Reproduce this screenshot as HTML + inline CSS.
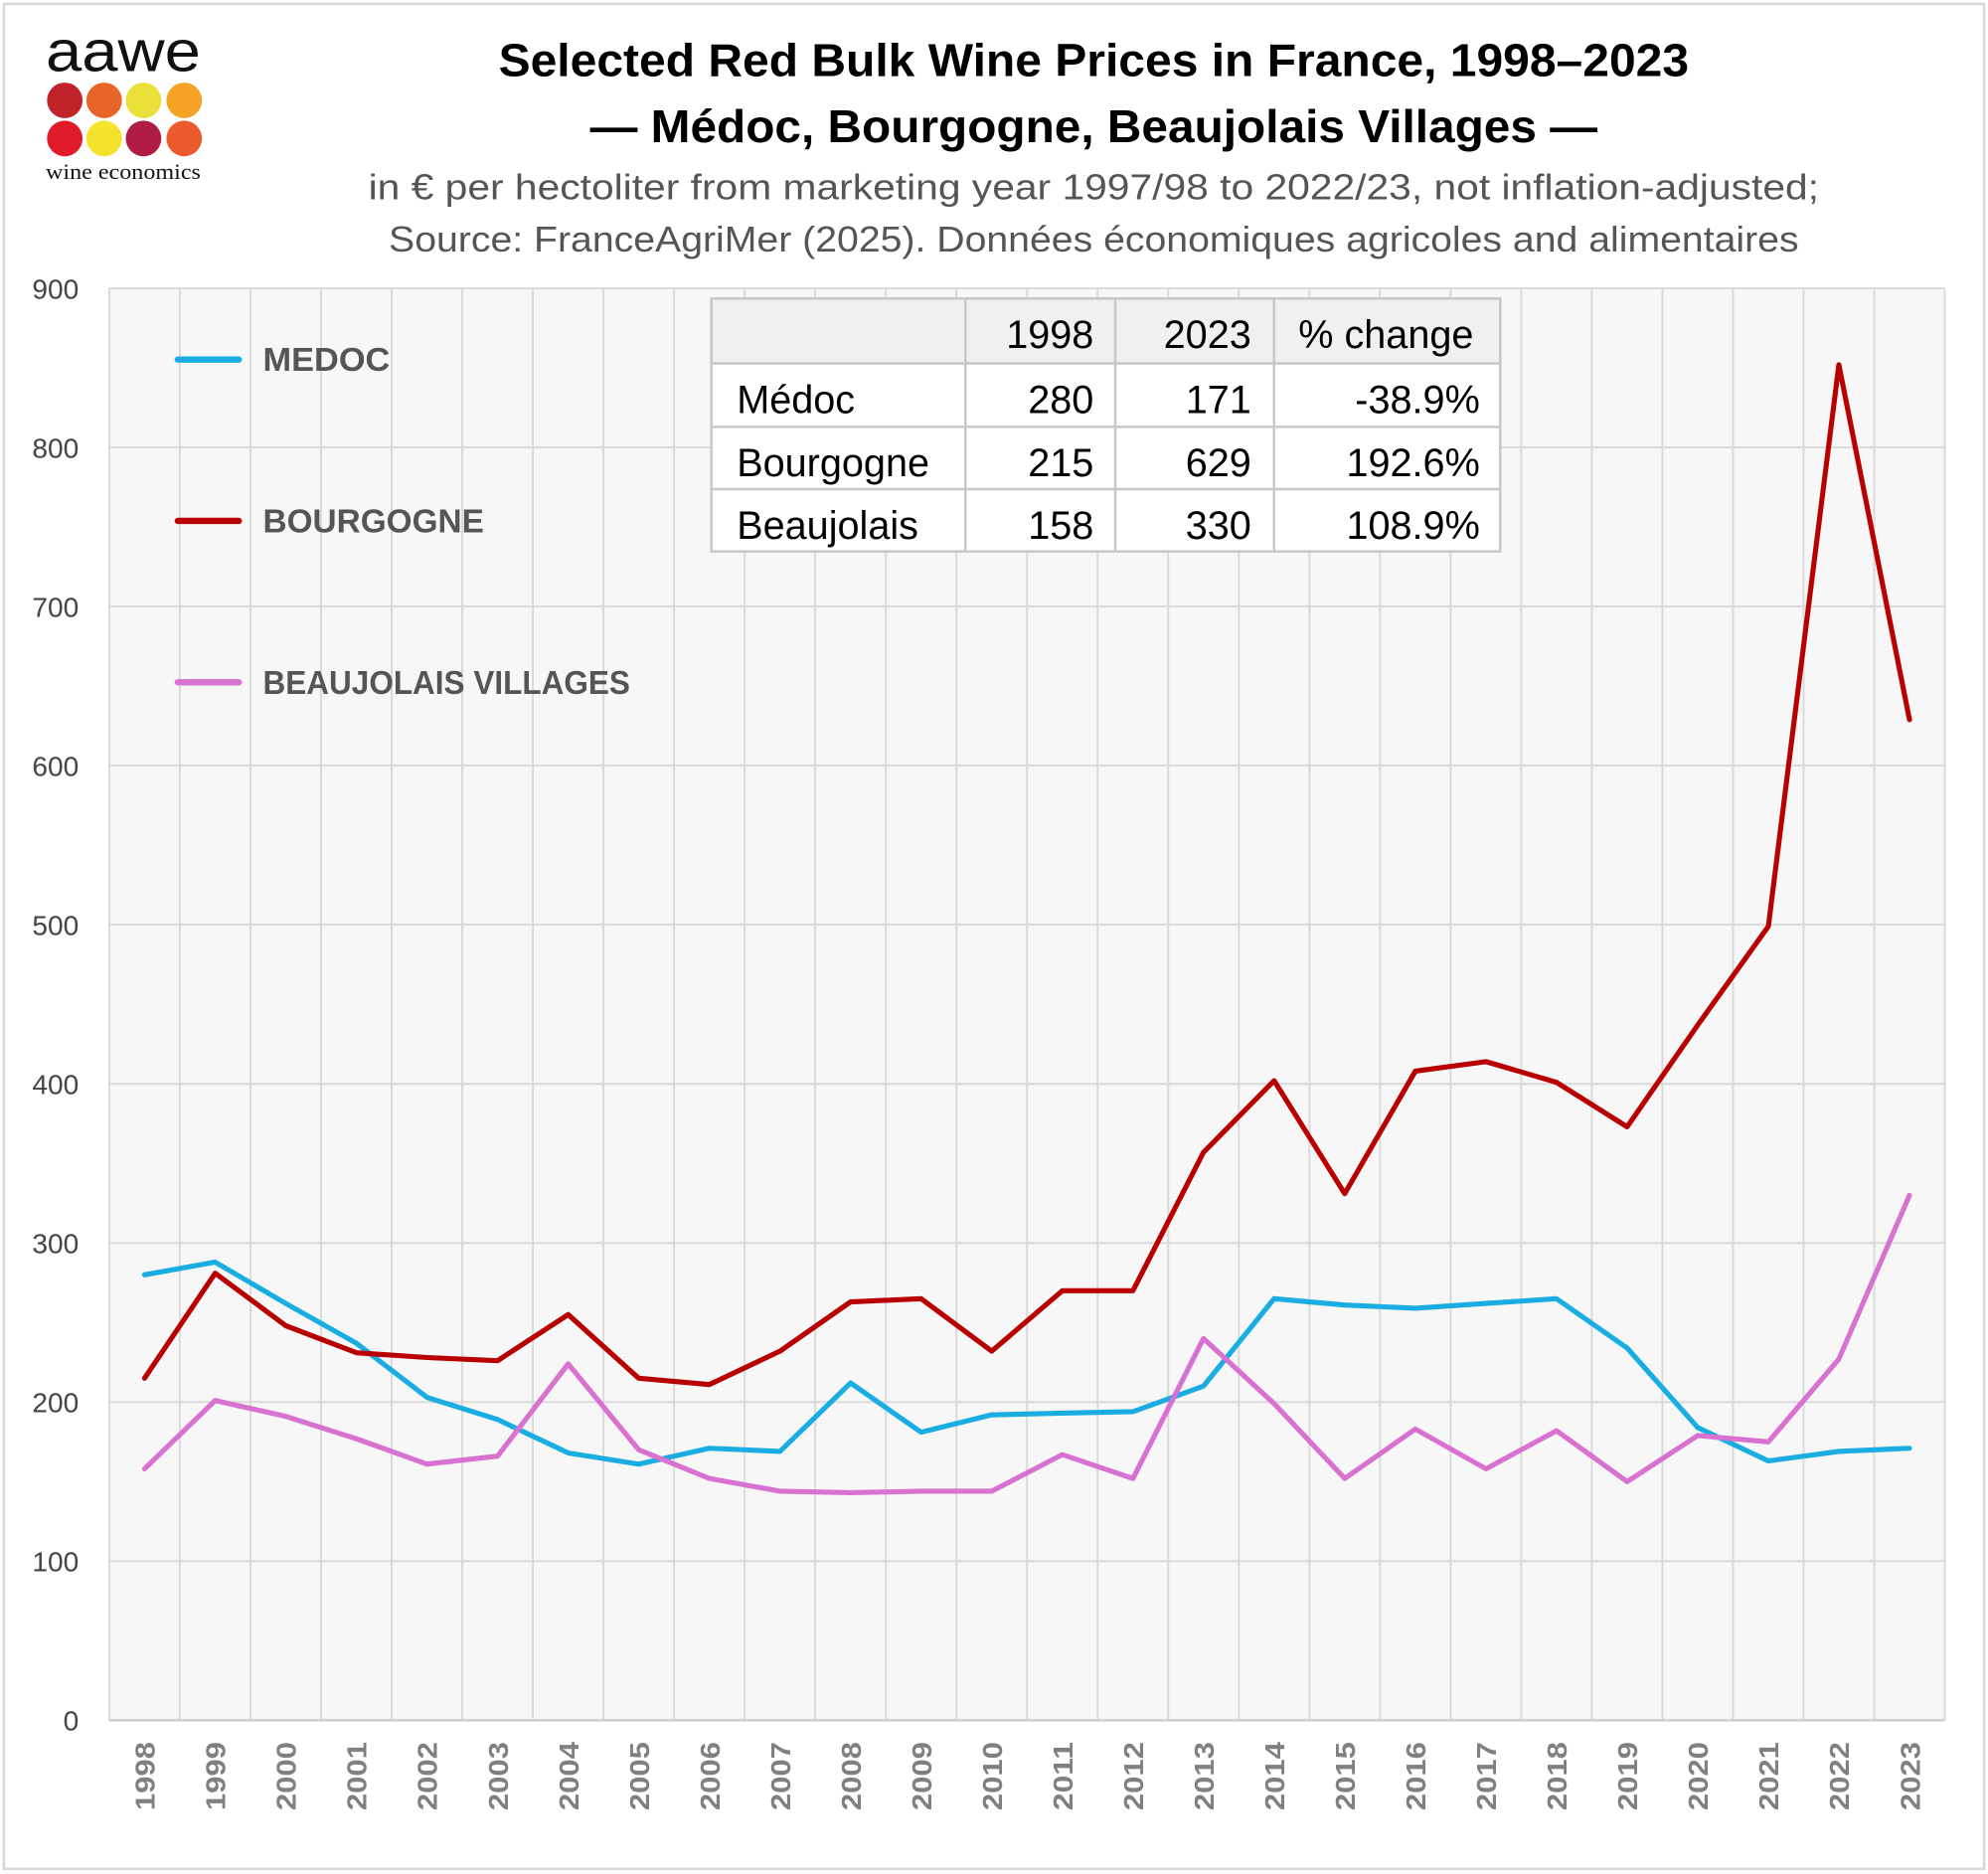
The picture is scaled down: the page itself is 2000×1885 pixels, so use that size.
<!DOCTYPE html>
<html><head><meta charset="utf-8"><style>
html,body{margin:0;padding:0;background:#fff;}
svg{display:block;}
text{font-family:"Liberation Sans",sans-serif;}
</style></head><body>
<svg id="chart" width="2000" height="1885" viewBox="0 0 1565 1475" xmlns="http://www.w3.org/2000/svg">
<rect x="3" y="3" width="1559" height="1468" fill="#fff" stroke="#d8d8d8" stroke-width="2"/>
<g>
<text x="36" y="56" font-size="46" textLength="122" lengthAdjust="spacingAndGlyphs" fill="#111">aawe</text>
<circle cx="51" cy="79" r="14" fill="#c0232a"/><circle cx="82" cy="79" r="14" fill="#e8652a"/><circle cx="113" cy="79" r="14" fill="#e9e03a"/><circle cx="145" cy="79" r="14" fill="#f4a325"/>
<circle cx="51" cy="109" r="14" fill="#e21b2a"/><circle cx="82" cy="109" r="14" fill="#f5e22a"/><circle cx="113" cy="109" r="14" fill="#b01c44"/><circle cx="145" cy="109" r="14" fill="#ec5b2e"/>
<text x="36" y="141" font-size="17" font-family="Liberation Serif,serif" textLength="122" lengthAdjust="spacingAndGlyphs" fill="#111" style="font-family:'Liberation Serif',serif">wine economics</text>
</g>
<text x="861" y="60" text-anchor="middle" font-size="36" font-weight="bold" textLength="937" lengthAdjust="spacingAndGlyphs" fill="#000">Selected Red Bulk Wine Prices in France, 1998–2023</text>
<text x="861" y="112" text-anchor="middle" font-size="36" font-weight="bold" textLength="793" lengthAdjust="spacingAndGlyphs" fill="#000">— Médoc, Bourgogne, Beaujolais Villages —</text>
<text x="861" y="157" text-anchor="middle" font-size="28" textLength="1142" lengthAdjust="spacingAndGlyphs" fill="#555">in € per hectoliter from marketing year 1997/98 to 2022/23, not inflation-adjusted;</text>
<text x="861" y="198" text-anchor="middle" font-size="28" textLength="1110" lengthAdjust="spacingAndGlyphs" fill="#555">Source: FranceAgriMer (2025). Données économiques agricoles and alimentaires</text>
<rect x="86" y="227" width="1445" height="1127" fill="#f7f7f7"/>
<g id="grid"></g>
<g id="axes"></g>
<g id="lines"></g>
<g>
<line x1="140" y1="283" x2="188" y2="283" stroke="#1aade2" stroke-width="5" stroke-linecap="round"/>
<text x="207" y="292" font-size="26" font-weight="bold" fill="#555" textLength="100" lengthAdjust="spacingAndGlyphs">MEDOC</text>
<line x1="140" y1="410" x2="188" y2="410" stroke="#b80000" stroke-width="5" stroke-linecap="round"/>
<text x="207" y="419" font-size="26" font-weight="bold" fill="#555" textLength="174" lengthAdjust="spacingAndGlyphs">BOURGOGNE</text>
<line x1="140" y1="537" x2="188" y2="537" stroke="#d772d0" stroke-width="5" stroke-linecap="round"/>
<text x="207" y="546" font-size="26" font-weight="bold" fill="#555" textLength="289" lengthAdjust="spacingAndGlyphs">BEAUJOLAIS VILLAGES</text>
</g>
<g font-size="31" fill="#000">
<rect x="560" y="235" width="621" height="199" fill="#fff" stroke="#c8c8c8" stroke-width="2"/>
<rect x="560" y="235" width="621" height="51" fill="#f0f0f0" stroke="#c8c8c8" stroke-width="2"/>
<line x1="560" y1="336" x2="1181" y2="336" stroke="#c8c8c8" stroke-width="2"/>
<line x1="560" y1="385" x2="1181" y2="385" stroke="#c8c8c8" stroke-width="2"/>
<line x1="760" y1="235" x2="760" y2="434" stroke="#c8c8c8" stroke-width="2"/>
<line x1="878" y1="235" x2="878" y2="434" stroke="#c8c8c8" stroke-width="2"/>
<line x1="1003" y1="235" x2="1003" y2="434" stroke="#c8c8c8" stroke-width="2"/>
<text x="861" y="274" text-anchor="end">1998</text><text x="985" y="274" text-anchor="end">2023</text><text x="1160" y="274" text-anchor="end">% change</text>
<text x="580" y="325">Médoc</text><text x="861" y="325" text-anchor="end">280</text><text x="985" y="325" text-anchor="end">171</text><text x="1165" y="325" text-anchor="end">-38.9%</text>
<text x="580" y="375">Bourgogne</text><text x="861" y="375" text-anchor="end">215</text><text x="985" y="375" text-anchor="end">629</text><text x="1165" y="375" text-anchor="end">192.6%</text>
<text x="580" y="424">Beaujolais</text><text x="861" y="424" text-anchor="end">158</text><text x="985" y="424" text-anchor="end">330</text><text x="1165" y="424" text-anchor="end">108.9%</text>
</g>
</svg>
<script>
const years = [1998,1999,2000,2001,2002,2003,2004,2005,2006,2007,2008,2009,2010,2011,2012,2013,2014,2015,2016,2017,2018,2019,2020,2021,2022,2023];
const medoc = [280,288,262,237,203,189,168,161,171,169,212,181,192,193,194,210,265,261,259,262,265,234,184,163,169,171];
const bourgogne = [215,281,248,231,228,226,255,215,211,232,263,265,232,270,270,357,402,331,408,414,401,373,437,499,852,629];
const beaujolais = [158,201,191,177,161,166,224,170,152,144,143,144,144,167,152,240,199,152,183,158,182,150,179,175,227,330];
const yTicks = [0,100,200,300,400,500,600,700,800,900];

const NS = 'http://www.w3.org/2000/svg';
const L = 86, R = 1531, T = 227, B = 1354, YMAX = 900;
const step = (R - L) / years.length;
function xScale(i){ return L + step * (i + 0.5); }
function yScale(v){ return B - (v / YMAX) * (B - T); }
function mk(tag, attrs, parent){ const e = document.createElementNS(NS, tag); for (const k in attrs) e.setAttribute(k, attrs[k]); parent.appendChild(e); return e; }

const grid = document.getElementById('grid');
const axes = document.getElementById('axes');
yTicks.forEach(v => {
  const y = yScale(v);
  const gl = mk('line', {x1: L, x2: R, y1: y, y2: y, stroke: '#d9d9d9', 'stroke-width': 1.5}, grid);
  
  
  const t = mk('text', {x: 62, y: y + 8, 'text-anchor': 'end', 'font-size': 22, fill: '#444'}, axes);
  t.textContent = v;
  
  
});
for (let i = 0; i <= years.length; i++) {
  const x = L + step * i;
  const vl = mk('line', {x1: x, x2: x, y1: T, y2: B, stroke: '#d9d9d9', 'stroke-width': 1.5}, grid);
  
  
}
mk('line', {x1: L, x2: R, y1: B, y2: B, stroke: '#cfcfcf', 'stroke-width': 2}, grid);
years.forEach((yr, i) => {
  const x = xScale(i);
  const t = mk('text', {x: 0, y: 0, transform: `translate(${x + 8},1425) rotate(-90)`, 'font-size': 22, 'font-weight': 'bold', fill: '#808080', textLength: 54, lengthAdjust: 'spacingAndGlyphs'}, axes);
  t.textContent = yr;
  
  
});

const linesG = document.getElementById('lines');
function drawLine(vals, color, name){
  const pts = vals.map((v, i) => xScale(i).toFixed(1) + ',' + yScale(v).toFixed(1)).join(' ');
  const p = mk('polyline', {points: pts, fill: 'none', stroke: color, 'stroke-width': 4, 'stroke-linejoin': 'round', 'stroke-linecap': 'round'}, linesG);
  
  
}
drawLine(medoc, '#1aade2', 'medoc-line');
drawLine(beaujolais, '#d772d0', 'beaujolais-line');
drawLine(bourgogne, '#b80000', 'bourgogne-line');
</script>
</body></html>
